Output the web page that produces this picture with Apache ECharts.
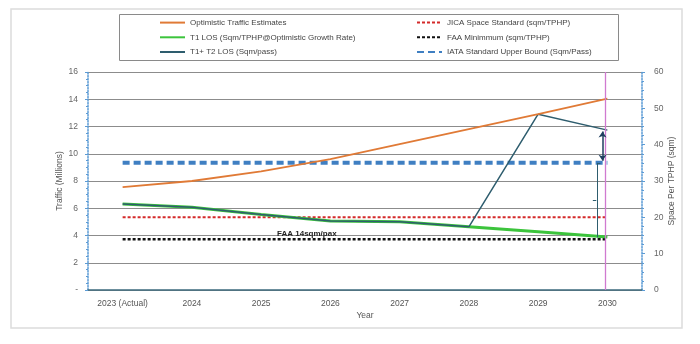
<!DOCTYPE html>
<html><head><meta charset="utf-8">
<script src="https://cdn.jsdelivr.net/npm/echarts@6/dist/echarts.min.js"></script>
<style>html,body{margin:0;padding:0;background:#fff}#c{width:700px;height:344px}</style>
</head><body><div id="c"></div>
<script>
var categories = ['2023 (Actual)','2024','2025','2026','2027','2028','2029','2030'];
var leftTicks = [0,2,4,6,8,10,12,14,16];
var rightTicks = [0,10,20,30,40,50,60];
var trafficOptimistic = [7.55, 8.0, 8.7, 9.6, 10.7, 11.8, 12.9, 14.05];
var t1Los = [23.7, 22.8, 20.8, 19.0, 18.8, 17.4, 16.0, 14.6];
var t1t2Los = [23.7, 22.8, 20.8, 19.0, 18.8, 17.4, 48.4, 44.0];
var jica = [20, 20, 20, 20, 20, 20, 20, 20];
var faa = [14, 14, 14, 14, 14, 14, 14, 14];
var iata = [35, 35, 35, 35, 35, 35, 35, 35];
var faaNote = 'FAA 14sqm/pax';

var FONT = 'Liberation Sans';
var chart = echarts.init(document.getElementById('c'), null, {renderer:'canvas'});
var names = ['Optimistic Traffic Estimates','T1 LOS (Sqm/TPHP@Optimistic Growth Rate)','T1+ T2 LOS (Sqm/pass)',
             'JICA Space Standard (sqm/TPHP)','FAA Minimmum (sqm/TPHP)','IATA Standard Upper Bound (Sqm/Pass)'];
var legendText = {fontFamily: FONT, fontSize: 8, color: '#444'};
var axisBlue = {show:true, onZero:false, lineStyle:{color:'#5b9bd5', width:1.5, type:'dotted'}};
chart.setOption({
  animation:false,
  backgroundColor:'#fff',
  graphic:[
    {type:'rect', shape:{x:11,y:9,width:671,height:319}, style:{fill:'none', stroke:'#dcdcdc', lineWidth:1.5}, silent:true},
    {type:'rect', shape:{x:119.5,y:14.5,width:499,height:46}, style:{fill:'none', stroke:'#8a8a8a', lineWidth:1}, silent:true}
  ],
  legend:[
    {orient:'vertical', left:154, top:13.6, itemWidth:25, itemHeight:8, itemGap:6.7, textStyle:legendText,
     itemStyle:{opacity:0}, data:names.slice(0,3)},
    {orient:'vertical', left:411, top:13.6, itemWidth:25, itemHeight:8, itemGap:6.7, textStyle:legendText,
     itemStyle:{opacity:0}, data:names.slice(3)}
  ],
  grid:{left:88, right:58, top:72, bottom:54},
  xAxis:[
    {type:'category', data:categories, boundaryGap:true,
     axisLine:{onZero:false, lineStyle:{color:'#3d6b7d', width:1.5}}, axisTick:{show:false},
     axisLabel:{fontFamily:FONT, fontSize:8.5, color:'#555', margin:9},
     name:'Year', nameLocation:'middle', nameGap:21, nameMoveOverlap:false,
     nameTextStyle:{fontFamily:FONT, fontSize:8.5, color:'#555'}},
    {type:'value', min:-0.5, max:7.5, show:false}
  ],
  yAxis:[
    {type:'value', min:0, max:16, interval:2, position:'left',
     axisLine:axisBlue, axisTick:{show:true, length:3, lineStyle:{color:'#5b9bd5'}},
     minorTick:{show:true, splitNumber:4, length:2, lineStyle:{color:'#5b9bd5'}},
     splitLine:{show:true, lineStyle:{color:'#8c8c8c', width:1}},
     axisLabel:{fontFamily:FONT, fontSize:8.5, color:'#666', margin:10,
       formatter:function(v){return v===0?'-':String(v);}},
     name:'Traffic (Millions)', nameLocation:'middle', nameGap:24, nameRotate:90, nameMoveOverlap:false,
     nameTextStyle:{fontFamily:FONT, fontSize:8.5, color:'#555'}},
    {type:'value', min:0, max:60, interval:10, position:'right',
     axisLine:axisBlue, axisTick:{show:true, length:3, lineStyle:{color:'#5b9bd5'}},
     minorTick:{show:true, splitNumber:4, length:2, lineStyle:{color:'#5b9bd5'}},
     splitLine:{show:false},
     axisLabel:{fontFamily:FONT, fontSize:8.5, color:'#666', margin:12},
     name:'Space Per TPHP (sqm)', nameLocation:'middle', nameGap:25, nameRotate:90, nameMoveOverlap:false,
     nameTextStyle:{fontFamily:FONT, fontSize:8.5, color:'#555'}}
  ],
  series:[
    {name:names[3], type:'line', yAxisIndex:1, data:jica, symbol:'none',
     lineStyle:{color:'#d42a2a', width:2, type:[3,2]}, itemStyle:{color:'#d42a2a'}},
    {name:names[4], type:'line', yAxisIndex:1, data:faa, symbol:'none',
     lineStyle:{color:'#111', width:2.5, type:[3,2]}, itemStyle:{color:'#111'}},
    {name:names[5], type:'line', yAxisIndex:1, data:iata, symbol:'none',
     lineStyle:{color:'#3f7fc2', width:4, type:[7,4]}, itemStyle:{color:'#3f7fc2'}},
    {name:names[1], type:'line', yAxisIndex:1, data:t1Los, symbol:'none',
     lineStyle:{color:'#3cc43c', width:3}, itemStyle:{color:'#3cc43c'}},
    {name:names[2], type:'line', yAxisIndex:1, data:t1t2Los, symbol:'none',
     lineStyle:{color:'#2e5d6e', width:1.5}, itemStyle:{color:'#5a8a96'}},
    {name:names[0], type:'line', yAxisIndex:0, data:trafficOptimistic, symbol:'none',
     lineStyle:{color:'#e07a36', width:1.8}, itemStyle:{color:'#e07a36'}},
    {name:'annotations', type:'line', xAxisIndex:1, yAxisIndex:1, data:[], symbol:'none', silent:true,
     markLine:{silent:true, animation:false, label:{show:false},
       data:[
         [{coord:[6.97,0], symbol:'none', lineStyle:{color:'#d07ad0', width:1.3, type:'solid'}},
          {coord:[6.97,60], symbol:'none'}],
         [{coord:[6.93,43.6], symbol:'arrow', symbolSize:6, lineStyle:{color:'#1f3f5f', width:1.5, type:'solid'}},
          {coord:[6.93,35.6], symbol:'arrow', symbolSize:6}],
         [{coord:[6.85,35], symbol:'none', lineStyle:{color:'#2e5d6e', width:1, type:'solid'}},
          {coord:[6.85,14.5], symbol:'none'}],
         [{coord:[6.85,35], symbol:'none', lineStyle:{color:'#2e5d6e', width:1, type:'solid'}},
          {coord:[6.9,35], symbol:'none'}],
         [{coord:[6.79,24.8], symbol:'none', lineStyle:{color:'#2e5d6e', width:1, type:'solid'}},
          {coord:[6.84,24.8], symbol:'none'}]
       ]},
     markPoint:{silent:true, symbol:'circle', symbolSize:0,
       data:[{coord:[2.66,15.4], value:faaNote,
         label:{show:true, formatter:faaNote, fontFamily:FONT, fontSize:8, fontWeight:'bold', color:'#222', position:'inside'}}]}
    }
  ]
});
</script></body></html>
